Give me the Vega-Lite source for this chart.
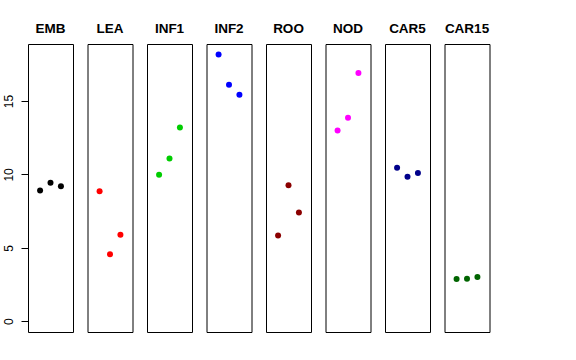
{
  "$schema": "https://vega.github.io/schema/vega-lite/v6.json",
  "background": "white",
  "padding": {"left": 1, "top": 21, "right": 5, "bottom": 5},
  "data": {"values": [
    {"group": "EMB", "rep": 1, "value": 8.90},
    {"group": "EMB", "rep": 2, "value": 9.43},
    {"group": "EMB", "rep": 3, "value": 9.20},
    {"group": "LEA", "rep": 1, "value": 8.86},
    {"group": "LEA", "rep": 2, "value": 4.57},
    {"group": "LEA", "rep": 3, "value": 5.90},
    {"group": "INF1", "rep": 1, "value": 9.97},
    {"group": "INF1", "rep": 2, "value": 11.09},
    {"group": "INF1", "rep": 3, "value": 13.20},
    {"group": "INF2", "rep": 1, "value": 18.17},
    {"group": "INF2", "rep": 2, "value": 16.11},
    {"group": "INF2", "rep": 3, "value": 15.43},
    {"group": "ROO", "rep": 1, "value": 5.84},
    {"group": "ROO", "rep": 2, "value": 9.27},
    {"group": "ROO", "rep": 3, "value": 7.40},
    {"group": "NOD", "rep": 1, "value": 12.99},
    {"group": "NOD", "rep": 2, "value": 13.86},
    {"group": "NOD", "rep": 3, "value": 16.91},
    {"group": "CAR5", "rep": 1, "value": 10.45},
    {"group": "CAR5", "rep": 2, "value": 9.84},
    {"group": "CAR5", "rep": 3, "value": 10.09},
    {"group": "CAR15", "rep": 1, "value": 2.88},
    {"group": "CAR15", "rep": 2, "value": 2.90},
    {"group": "CAR15", "rep": 3, "value": 3.02}
  ]},
  "facet": {
    "column": {
      "field": "group",
      "type": "nominal",
      "sort": ["EMB", "LEA", "INF1", "INF2", "ROO", "NOD", "CAR5", "CAR15"],
      "title": null,
      "header": {
        "labelFont": "Liberation Sans",
        "labelFontSize": 13.5,
        "labelFontWeight": "bold",
        "labelColor": "black",
        "labelPadding": 9
      }
    }
  },
  "spacing": 14.5,
  "bounds": "flush",
  "spec": {
    "width": 45,
    "height": 288,
    "mark": {"type": "point", "filled": true, "opacity": 1, "size": 36},
    "encoding": {
      "x": {
        "field": "rep",
        "type": "quantitative",
        "scale": {"domain": [-0.16, 4.16], "nice": false, "zero": false},
        "axis": null
      },
      "y": {
        "field": "value",
        "type": "quantitative",
        "scale": {"domain": [-0.73, 18.88], "nice": false, "zero": false},
        "axis": {
          "title": null,
          "values": [0, 5, 10, 15],
          "grid": false,
          "domain": false,
          "tickColor": "black",
          "tickSize": 7,
          "labelAngle": -90,
          "labelAlign": "center",
          "labelBaseline": "bottom",
          "labelPadding": 6,
          "labelFont": "Liberation Sans",
          "labelFontSize": 12,
          "labelColor": "black"
        }
      },
      "color": {
        "field": "group",
        "type": "nominal",
        "scale": {
          "domain": ["EMB", "LEA", "INF1", "INF2", "ROO", "NOD", "CAR5", "CAR15"],
          "range": ["#000000", "#FF0000", "#00CD00", "#0000FF", "#8B0000", "#FF00FF", "#00008B", "#006400"]
        },
        "legend": null
      }
    }
  },
  "config": {
    "view": {"stroke": "black", "strokeWidth": 1}
  }
}
